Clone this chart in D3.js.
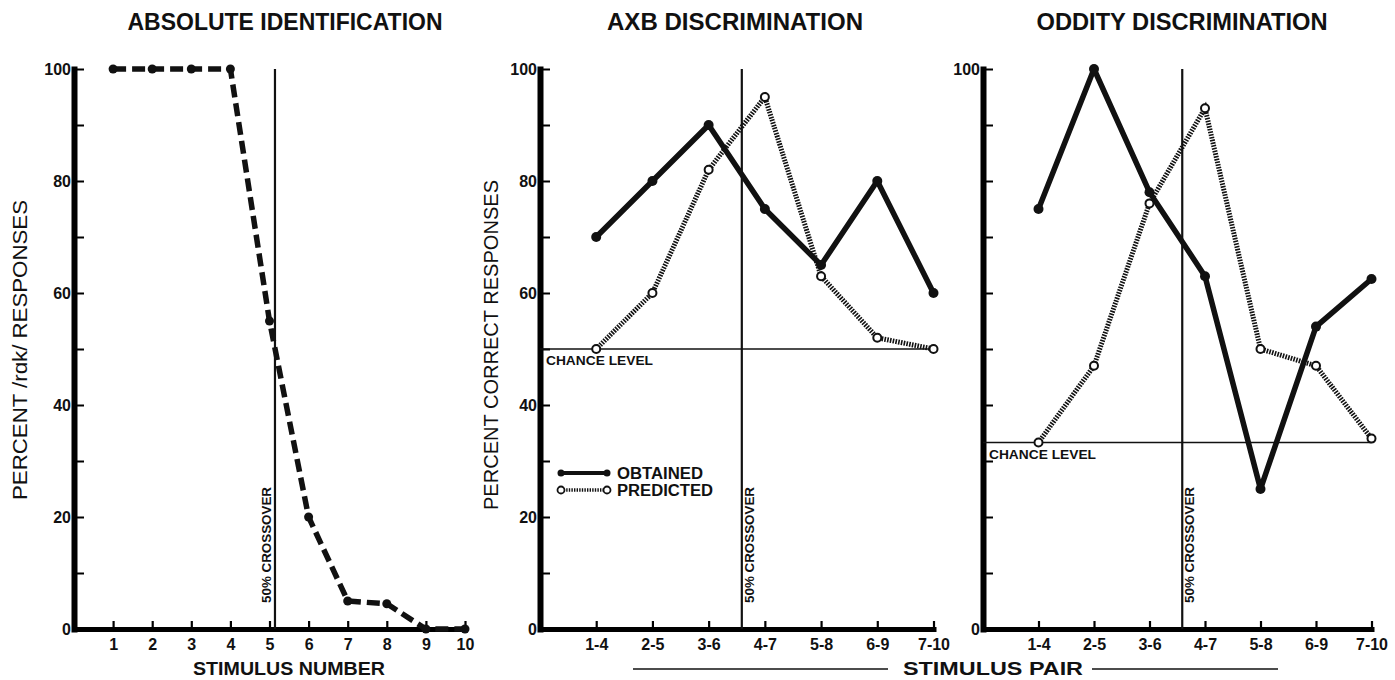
<!DOCTYPE html>
<html>
<head>
<meta charset="utf-8">
<script src="https://cdn.jsdelivr.net/npm/d3@7"></script>
<style>
body { margin: 0; background: #fff; }
svg text { font-family: "Liberation Sans", Arial, Helvetica, sans-serif; fill: #111; }
</style>
</head>
<body>
<div id="chart"></div>
<script>
// waarden
const stimulusNumbers = [1, 2, 3, 4, 5, 6, 7, 8, 9, 10];
const identPercent = [100, 100, 100, 100, 55, 20, 5, 4.5, 0, 0];

const stimulusPairs = ["1-4", "2-5", "3-6", "4-7", "5-8", "6-9", "7-10"];
const axbObtained = [70, 80, 90, 75, 65, 80, 60];
const axbPredicted = [50, 60, 82, 95, 63, 52, 50];
const oddityObtained = [75, 100, 78, 63, 25, 54, 62.5];
const oddityPredicted = [33.3, 47, 76, 93, 50, 47, 34];

const chanceLevels = [50, 33.3];        // axb, oddity
const crossovers = [5.14, 3.59, 3.59];  // ident, axb, oddity
const percentTicks = [0, 10, 20, 30, 40, 50, 60, 70, 80, 90, 100];

const width = 1395, height = 680;

const svg = d3.select("#chart")
    .append("svg")
    .attr("width", width)
    .attr("height", height);

// y schaal is voor alle drie panelen gelijk
const y = d3.scaleLinear().domain([0, 100]).range([629, 69]);

const xIdent = d3.scaleLinear().domain([0, 10]).range([74, 465]);
const xAxb = d3.scaleLinear().domain([0, 7]).range([540, 933.5]);
const xOdd = d3.scaleLinear().domain([0, 7]).range([983, 1371.5]);

function drawAxes(x, labelEvery, tickVals, tickFmt) {
    const g = svg.append("g");

    // x as, ticks naar binnen (omhoog)
    const xa = g.append("g")
        .attr("transform", "translate(0," + y(0) + ")")
        .call(d3.axisBottom(x)
            .tickValues(tickVals)
            .tickFormat(tickFmt)
            .tickSizeInner(-8)
            .tickSizeOuter(0)
            .tickPadding(10));
    xa.select(".domain").attr("stroke-width", 5).attr("stroke-linecap", "square");
    xa.selectAll(".tick line").attr("stroke-width", 2.2);
    xa.selectAll(".tick text")
        .style("font-size", "16px")
        .style("font-weight", "bold");

    // y as, ticks naar rechts
    const ya = g.append("g")
        .attr("transform", "translate(" + x.range()[0] + ",0)")
        .call(d3.axisLeft(y)
            .tickValues(percentTicks)
            .tickFormat(d => labelEvery(d) ? d : "")
            .tickSizeInner(-10)
            .tickSizeOuter(0)
            .tickPadding(3));
    ya.select(".domain").attr("stroke-width", 6).attr("stroke-linecap", "square");
    ya.selectAll(".tick line").attr("stroke-width", 2);
    ya.selectAll(".tick text")
        .style("font-size", "16px")
        .style("font-weight", "bold");
}

function title(txt, cx, len) {
    svg.append("text")
        .attr("x", cx)
        .attr("y", 30)
        .attr("text-anchor", "middle")
        .attr("textLength", len)
        .attr("lengthAdjust", "spacingAndGlyphs")
        .style("font-size", "23px")
        .style("font-weight", "bold")
        .text(txt);
}

function yLabel(txt, cx, cy, len) {
    svg.append("text")
        .attr("transform", "translate(" + cx + "," + cy + ") rotate(-90)")
        .attr("text-anchor", "middle")
        .attr("dy", "0.35em")
        .attr("textLength", len)
        .attr("lengthAdjust", "spacingAndGlyphs")
        .style("font-size", "20px")
        .text(txt);
}

function crossover(x, value, side) {
    const cx = x(value);
    svg.append("line")
        .attr("x1", cx).attr("x2", cx)
        .attr("y1", y(100)).attr("y2", y(0))
        .attr("stroke", "#111")
        .attr("stroke-width", 2.2);
    svg.append("text")
        .attr("transform", "translate(" + (cx + side * 8) + "," + 603 + ") rotate(-90)")
        .attr("dy", "0.35em")
        .attr("textLength", 116)
        .attr("lengthAdjust", "spacingAndGlyphs")
        .style("font-size", "12px")
        .style("font-weight", "bold")
        .text("50% CROSSOVER");
}

function chance(x, level) {
    svg.append("line")
        .attr("x1", x.range()[0]).attr("x2", x(7))
        .attr("y1", y(level)).attr("y2", y(level))
        .attr("stroke", "#111")
        .attr("stroke-width", 1.6);
    svg.append("text")
        .attr("x", x.range()[0] + 6)
        .attr("y", y(level) + 16)
        .attr("textLength", 107)
        .attr("lengthAdjust", "spacingAndGlyphs")
        .style("font-size", "13px")
        .style("font-weight", "bold")
        .text("CHANCE LEVEL");
}

function obtainedLine(x, values) {
    const line = d3.line().x((d, i) => x(i + 1)).y(d => y(d));
    svg.append("path")
        .attr("d", line(values))
        .attr("fill", "none")
        .attr("stroke", "#111")
        .attr("stroke-width", 5.5)
        .attr("stroke-linejoin", "round");
    svg.append("g").selectAll("circle")
        .data(values)
        .enter()
        .append("circle")
        .attr("cx", (d, i) => x(i + 1))
        .attr("cy", d => y(d))
        .attr("r", 5)
        .attr("fill", "#111");
}

function predictedLine(x, values) {
    const line = d3.line().x((d, i) => x(i + 1)).y(d => y(d));
    svg.append("path")
        .attr("d", line(values))
        .attr("fill", "none")
        .attr("stroke", "#111")
        .attr("stroke-width", 5)
        .attr("stroke-dasharray", "1.6,1.2");
    svg.append("g").selectAll("circle")
        .data(values)
        .enter()
        .append("circle")
        .attr("cx", (d, i) => x(i + 1))
        .attr("cy", d => y(d))
        .attr("r", 4)
        .attr("fill", "#fff")
        .attr("stroke", "#111")
        .attr("stroke-width", 2);
}

// ---------- paneel 1: absolute identification
title("ABSOLUTE IDENTIFICATION", 285, 315);
drawAxes(xIdent, d => d % 20 === 0, stimulusNumbers, d => d);
yLabel("PERCENT /r\u0251k/ RESPONSES", 20, 350, 300);
crossover(xIdent, crossovers[0], -1);

const identLine = d3.line().x((d, i) => xIdent(stimulusNumbers[i])).y(d => y(d));
svg.append("path")
    .attr("d", identLine(identPercent))
    .attr("fill", "none")
    .attr("stroke", "#111")
    .attr("stroke-width", 5.5)
    .attr("stroke-dasharray", "13,6");
svg.append("g").selectAll("circle")
    .data(identPercent)
    .enter()
    .append("circle")
    .attr("cx", (d, i) => xIdent(stimulusNumbers[i]))
    .attr("cy", d => y(d))
    .attr("r", 4.5)
    .attr("fill", "#111");

svg.append("text")
    .attr("x", 289)
    .attr("y", 675)
    .attr("text-anchor", "middle")
    .attr("textLength", 192)
    .attr("lengthAdjust", "spacingAndGlyphs")
    .style("font-size", "19px")
    .style("font-weight", "bold")
    .text("STIMULUS NUMBER");

// ---------- paneel 2: AXB
const pairIdx = stimulusPairs.map((d, i) => i + 1);
title("AXB DISCRIMINATION", 735, 256);
drawAxes(xAxb, d => d % 20 === 0, pairIdx, d => stimulusPairs[d - 1]);
yLabel("PERCENT CORRECT RESPONSES", 491, 345, 330);
chance(xAxb, chanceLevels[0]);
crossover(xAxb, crossovers[1], 1);
predictedLine(xAxb, axbPredicted);
obtainedLine(xAxb, axbObtained);

// legenda
const legend = svg.append("g");
const legendItems = ["OBTAINED", "PREDICTED"];
legendItems.forEach(function (name, i) {
    const ly = 473 + i * 17;
    legend.append("line")
        .attr("x1", 561).attr("x2", 607)
        .attr("y1", ly).attr("y2", ly)
        .attr("stroke", "#111")
        .attr("stroke-width", i === 0 ? 4 : 3.5)
        .attr("stroke-dasharray", i === 0 ? null : "1.4,1.2");
    [561, 607].forEach(function (cx) {
        legend.append("circle")
            .attr("cx", cx).attr("cy", ly)
            .attr("r", 3.5)
            .attr("fill", i === 0 ? "#111" : "#fff")
            .attr("stroke", "#111")
            .attr("stroke-width", i === 0 ? 0 : 1.8);
    });
    legend.append("text")
        .attr("x", 617)
        .attr("y", ly + 6)
        .attr("textLength", i === 0 ? 86 : 96)
        .attr("lengthAdjust", "spacingAndGlyphs")
        .style("font-size", "16px")
        .style("font-weight", "bold")
        .text(name);
});

// ---------- paneel 3: oddity
title("ODDITY DISCRIMINATION", 1182, 291);
drawAxes(xOdd, d => d === 0 || d === 100, pairIdx, d => stimulusPairs[d - 1]);
chance(xOdd, chanceLevels[1]);
crossover(xOdd, crossovers[2], 1);
predictedLine(xOdd, oddityPredicted);
obtainedLine(xOdd, oddityObtained);

// gedeeld x label met lijnen links en rechts
svg.append("text")
    .attr("x", 993)
    .attr("y", 675)
    .attr("text-anchor", "middle")
    .attr("textLength", 180)
    .attr("lengthAdjust", "spacingAndGlyphs")
    .style("font-size", "19px")
    .style("font-weight", "bold")
    .text("STIMULUS PAIR");
[[633, 888], [1092, 1278]].forEach(function (p) {
    svg.append("line")
        .attr("x1", p[0]).attr("x2", p[1])
        .attr("y1", 669).attr("y2", 669)
        .attr("stroke", "#111")
        .attr("stroke-width", 1.6);
});
</script>
</body>
</html>
